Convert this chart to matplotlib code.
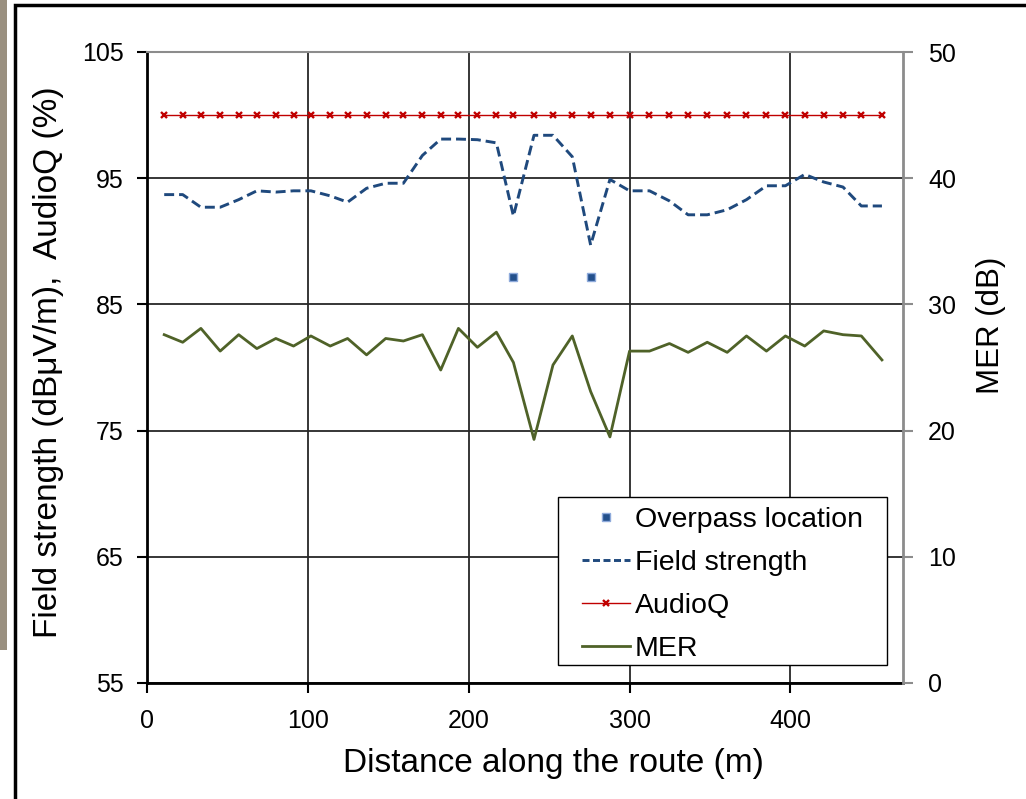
import matplotlib
matplotlib.use("Agg")
import matplotlib.pyplot as plt
from matplotlib.lines import Line2D
from matplotlib.patches import Rectangle

plt.rcParams['font.family'] = ['Liberation Sans', 'DejaVu Sans']

# distancia a lo largo de la ruta (m)
distance = [10.7, 22.2, 33.5, 45.5, 57.0, 68.3, 80.1, 91.1, 101.9, 113.9,
            124.7, 136.5, 148.4, 159.4, 171.2, 182.6, 193.6, 205.4, 217.2, 227.8,
            240.6, 252.4, 264.4, 275.8, 287.8, 300.0, 312.4, 324.8, 336.4, 348.3,
            360.7, 372.7, 385.1, 396.9, 408.9, 420.7, 432.7, 444.1, 456.9]

field_strength = [93.7, 93.7, 92.7, 92.7, 93.3, 94.0, 93.9, 94.0, 94.0, 93.6,
                  93.1, 94.2, 94.6, 94.6, 96.8, 98.1, 98.1, 98.05, 97.8, 92.0,
                  98.4, 98.4, 96.7, 89.7, 94.9, 94.0, 94.0, 93.2, 92.1, 92.1,
                  92.5, 93.3, 94.4, 94.4, 95.3, 94.7, 94.3, 92.8, 92.8]

audioq = [100] * 39

mer = [27.6, 27.0, 28.1, 26.3, 27.6, 26.5, 27.3, 26.7, 27.5, 26.7,
       27.3, 26.0, 27.3, 27.1, 27.6, 24.8, 28.1, 26.6, 27.8, 25.4,
       19.3, 25.2, 27.5, 23.1, 19.5, 26.3, 26.3, 26.9, 26.2, 27.0,
       26.2, 27.5, 26.3, 27.5, 26.7, 27.9, 27.6, 27.5, 25.6]

overpass_x = [227.8, 275.8]
overpass_y = [87.2, 87.2]

c_field = '#1F497D'
c_audio = '#C00000'
c_mer = '#4F6228'
c_over = '#23508C'

fig = plt.figure(figsize=(10.26, 7.99), dpi=100)
ax = fig.add_axes([147/1026, 1-683/799, 756/1026, 631/799])
ax2 = ax.twinx()

ax.plot(overpass_x, overpass_y, 's', ms=6, mfc=c_over, mec='#8EAADB', mew=1, zorder=5)
ax.plot(distance, field_strength, color=c_field, lw=2.1, ls=(0, (3.4, 1.7)), zorder=4)
ax.plot(distance, audioq, color=c_audio, lw=1.0, marker='x', ms=4, mew=1.7, zorder=4)
ax2.plot(distance, mer, color=c_mer, lw=2.0)

ax.set_xlim(0, 470)
ax.set_ylim(55, 105)
ax2.set_ylim(0, 50)
ax.set_xticks([0, 100, 200, 300, 400])
ax.set_yticks([55, 65, 75, 85, 95, 105])
ax2.set_yticks([0, 10, 20, 30, 40, 50])

ax.grid(True, color='#262626', lw=1.3)
ax.set_axisbelow(True)

for sp in ['left', 'bottom']:
    ax.spines[sp].set_linewidth(2.0)
    ax.spines[sp].set_color('black')
ax.spines['top'].set_color('#8c8c8c')
ax.spines['top'].set_linewidth(1.5)
ax.spines['right'].set_visible(False)
ax2.spines['top'].set_visible(False)
ax2.spines['left'].set_visible(False)
ax2.spines['bottom'].set_visible(False)
ax2.spines['right'].set_color('#8c8c8c')
ax2.spines['right'].set_linewidth(2.0)

ax.tick_params(axis='both', direction='out', length=7, width=1.5, labelsize=18, pad=10, color='black')
ax.tick_params(axis='x', pad=12)
ax2.tick_params(axis='y', direction='out', length=7, width=1.5, labelsize=18, pad=11, color='#8c8c8c')

ax.set_xlabel('Distance along the route (m)', fontsize=24)
ax.xaxis.set_label_coords((553-147)/756, -0.127)
ax.xaxis.label.set_va('center')
ax.set_ylabel('Field strength (dB\u03bcV/m),  AudioQ (%)', fontsize=24)
ax.yaxis.set_label_coords(-0.13, 0.508)
ax.yaxis.label.set_va('center')
ax2.set_ylabel('MER (dB)', fontsize=22.5)
ax2.yaxis.set_label_coords(1.117, 0.567)
ax2.yaxis.label.set_va('center')
ax2.yaxis.label.set_rotation(90)

handles = [
    Line2D([], [], ls='none', marker='s', ms=6, mfc=c_over, mec='#8EAADB', mew=1),
    Line2D([], [], color=c_field, lw=2.1, ls=(0, (2.4, 1.2))),
    Line2D([], [], color=c_audio, lw=1.0, marker='x', ms=4, mew=1.7),
    Line2D([], [], color=c_mer, lw=2.0),
]
labels = ['Overpass location', 'Field strength', 'AudioQ', 'MER']
leg = ax2.legend(handles, labels, loc='upper left', bbox_to_anchor=((582-147)/756, (683-507)/631),
                 borderaxespad=0, fontsize=20.5, frameon=False, handlelength=1.7,
                 handletextpad=0.15, labelspacing=0.6, numpoints=1, borderpad=0)
leg.set_zorder(8)
# marco de la leyenda
ax2.add_patch(Rectangle(((558-147)/756, (683-665)/631), (887-558)/756, (665-497)/631,
                        transform=ax2.transAxes, fc='white', ec='black', lw=1.0,
                        zorder=6))

# marco del grafico y borde izquierdo
fig.add_artist(Rectangle((15/1026, -0.1), 2.0, 1.1 - 5/799, transform=fig.transFigure,
                         fill=False, ec='black', lw=2.5))
fig.add_artist(Rectangle((0, 1-650/799), 7/1026, 650/799, transform=fig.transFigure,
                         fc='#9a9080', ec='none'))

fig.savefig('out.png', dpi=100)
